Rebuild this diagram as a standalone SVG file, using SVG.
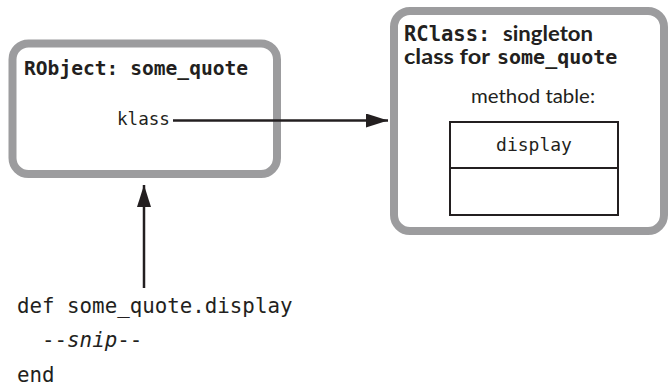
<svg xmlns="http://www.w3.org/2000/svg" width="668" height="387" viewBox="0 0 668 387">
<style>
.box{fill:#fff;stroke:#9c9c9e;stroke-width:8}
.mono{font-family:"DejaVu Sans Mono","Liberation Mono",monospace;fill:#231f20}
.sans{font-family:Lato,"Noto Sans",sans-serif;fill:#231f20}
.b{font-weight:bold}
.line{stroke:#231f20;stroke-width:2.5;fill:none}
.tbl{fill:none;stroke:#231f20;stroke-width:2}
</style>
<defs>
<marker id="ah" markerWidth="22" markerHeight="14" refX="22" refY="7" orient="auto" markerUnits="userSpaceOnUse">
<path d="M0,0 L22,7 L0,14 Z" fill="#231f20"/>
</marker>
</defs>
<g id="robject">
<rect class="box" x="12.5" y="43.5" width="264.5" height="130.5" rx="16"/>
<text class="mono b" x="24" y="75" font-size="19.6">RObject: some_quote</text>
<text class="mono" x="117" y="125" font-size="17.6">klass</text>
</g>
<g id="rclass">
<rect class="box" x="394" y="11" width="270" height="220" rx="16"/>
<text x="404" y="41" font-size="20.5"><tspan class="mono b">RClass:</tspan><tspan class="sans b" x="503" textLength="90" lengthAdjust="spacingAndGlyphs">singleton</tspan></text>
<text x="404" y="64" font-size="20.5"><tspan class="sans b" textLength="86" lengthAdjust="spacingAndGlyphs">class for</tspan><tspan class="mono b" x="497" font-size="20">some_quote</tspan></text>
<text class="sans" x="471" y="103" font-size="19.5" textLength="124" lengthAdjust="spacingAndGlyphs">method table:</text>
<rect class="tbl" x="450" y="122" width="168" height="93"/>
<line class="tbl" x1="450" y1="168" x2="618" y2="168"/>
<text class="mono" x="534" y="151" font-size="18" text-anchor="middle">display</text>
</g>
<g id="code">
<text class="mono" x="17" y="313" font-size="20.8">def some_quote.display</text>
<text class="mono" x="17" y="347" font-size="20.8" xml:space="preserve">  --<tspan font-style="italic">snip</tspan>--</text>
<text class="mono" x="17" y="382" font-size="20.8">end</text>
</g>
<g id="connectors">
<line class="line" x1="173" y1="120.5" x2="388" y2="120.5" marker-end="url(#ah)"/>
<line class="line" x1="144" y1="288" x2="144" y2="185" marker-end="url(#ah)"/>
</g>
</svg>
